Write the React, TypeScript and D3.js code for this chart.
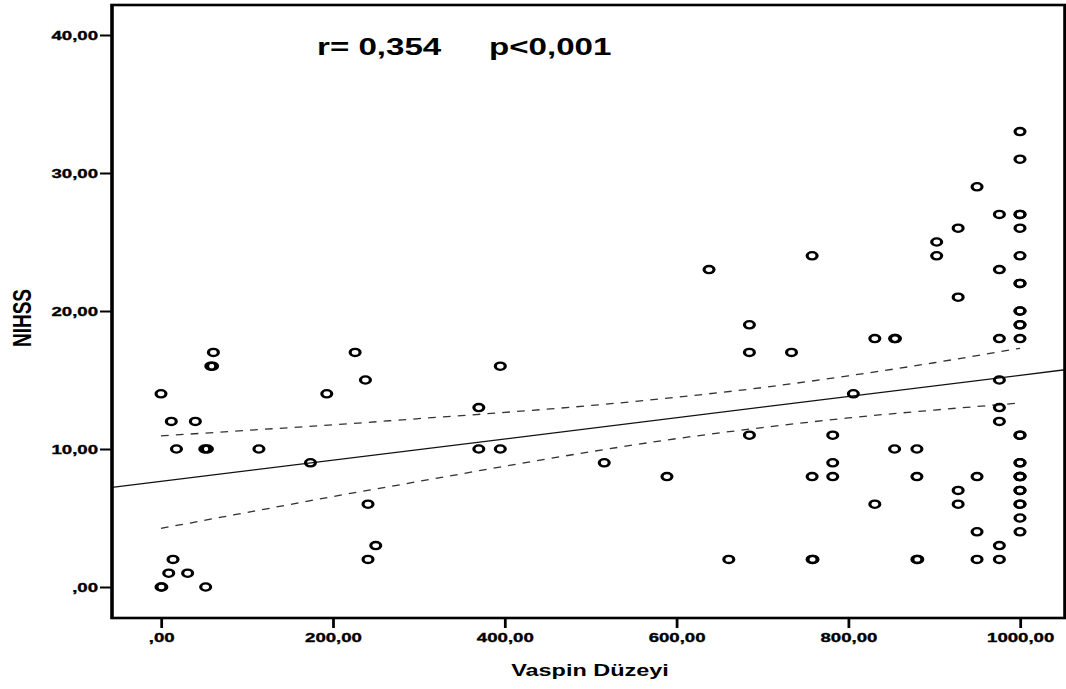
import React, { useEffect, useRef } from 'react';
import * as d3 from 'd3';

// Vaspin level (x) and NIHSS score (y)
const vaspin = [
  0, 12, 40, 18, 51, 54, 114, 61, 58, 60, 0, 1, 14, 9, 31, 52,
  226, 238, 193, 174, 241, 250, 241,
  370, 370, 395, 395, 516, 589, 638, 661,
  685, 685, 685, 734, 758, 758, 758, 759,
  782, 782, 782, 806, 831, 831, 854, 855, 854,
  880, 880, 880, 881, 903, 903, 928, 928, 928, 928,
  950, 950, 950, 950, 976, 976, 976, 976, 976, 976, 976, 976,
  1000, 1000, 1000, 1000, 1000, 1000, 1000, 1000, 1000, 1000, 1000, 1000, 1000,
  1000, 1000, 1000, 1000, 1000, 1000, 1000, 1000, 1000, 1000, 1000, 1000, 1000,
];
const nihss = [
  14, 12, 12, 10, 10, 10, 10, 17, 16, 16, 0, 0, 2, 1, 1, 0,
  17, 15, 14, 9, 6, 3, 2,
  13, 10, 16, 10, 9, 8, 23, 2,
  19, 17, 11, 17, 24, 8, 2, 2,
  11, 9, 8, 14, 18, 6, 18, 18, 10,
  10, 8, 2, 2, 25, 24, 26, 21, 7, 6,
  29, 8, 4, 2, 27, 23, 18, 15, 13, 12, 3, 2,
  33, 31, 27, 27, 26, 24, 22, 22, 20, 20, 19, 19, 18,
  11, 11, 9, 9, 8, 8, 8, 7, 7, 6, 6, 5, 4,
];

// fit line and its 95% band
const fitIntercept = 7.65;
const fitSlope = 0.00769;
const ciX = [0, 100, 200, 300, 400, 500, 600, 700, 800, 900, 1000];
const ciUpper = [10.95, 11.35, 11.75, 12.2, 12.65, 13.15, 13.75, 14.45, 15.3, 16.25, 17.3];
const ciLower = [4.25, 5.4, 6.55, 7.65, 8.75, 9.8, 10.75, 11.55, 12.25, 12.82, 13.33];

const xTicks = [0, 200, 400, 600, 800, 1000];
const yTicks = [0, 10, 20, 30, 40];
const statR = 'r= 0,354';
const statP = 'p<0,001';
const xTitle = 'Vaspin Düzeyi';
const yTitle = 'NIHSS';

const SX = 1.38; // the source image is stretched sideways, so is everything here
const FONT = '"Liberation Sans", Arial, sans-serif';

const App = () => {
  const ref = useRef<SVGSVGElement>(null);

  useEffect(() => {
    const root = d3.select(ref.current);
    root.selectAll('*').remove();

    const g = root.append('g').attr('transform', `scale(${SX},1)`);

    const left = 112 / SX;
    const right = 1065 / SX;
    const top = 5;
    const bottom = 618;

    const x = d3.scaleLinear().domain([0, 1000]).range([161 / SX, 1020 / SX]);
    const y = d3.scaleLinear().domain([0, 40]).range([587, 35]);

    const num = d3
      .formatLocale({ decimal: ',', thousands: '', grouping: [3], currency: ['', ''] })
      .format('.2f');
    const fmt = (v: number) => num(v).replace(/^0,/, ',');

    root
      .append('defs')
      .append('clipPath')
      .attr('id', 'plotclip')
      .append('rect')
      .attr('x', left)
      .attr('y', top)
      .attr('width', right - left)
      .attr('height', bottom - top);

    const styleTicks = (sel: any) => {
      sel.select('.domain').remove();
      sel.selectAll('line').attr('stroke', '#000').attr('stroke-width', 2);
      sel
        .selectAll('text')
        .attr('fill', '#000')
        .attr('stroke', '#000')
        .attr('stroke-width', 0.35)
        .attr('font-family', FONT)
        .attr('font-size', 13.5)
        .attr('font-weight', 'bold');
    };

    // y axis
    const yAxis = g
      .append('g')
      .attr('transform', `translate(${left},0)`)
      .call(
        d3.axisLeft(y)
          .tickValues(yTicks)
          .tickFormat(fmt as any)
          .tickSize(12 / SX)
          .tickSizeOuter(0)
          .tickPadding(2 / SX)
      );
    styleTicks(yAxis);

    // x axis
    const xAxis = g
      .append('g')
      .attr('transform', `translate(0,${bottom})`)
      .call(
        d3.axisBottom(x)
          .tickValues(xTicks)
          .tickFormat(fmt as any)
          .tickSize(10)
          .tickSizeOuter(0)
          .tickPadding(4)
      );
    styleTicks(xAxis);

    // confidence band (dashed)
    const band = d3
      .line<number>()
      .x((d, i) => x(ciX[i]))
      .y((d) => y(d))
      .curve(d3.curveMonotoneX);

    [ciUpper, ciLower].forEach((vals) => {
      g.append('path')
        .datum(vals)
        .attr('d', band)
        .attr('fill', 'none')
        .attr('stroke', '#333')
        .attr('stroke-width', 1.3)
        .attr('stroke-dasharray', '5.6,5.2');
    });

    // fit line across the whole frame
    const x0 = x.invert(left);
    const x1 = x.invert(right);
    g.append('line')
      .attr('clip-path', 'url(#plotclip)')
      .attr('x1', x(x0))
      .attr('y1', y(fitIntercept + fitSlope * x0))
      .attr('x2', x(x1))
      .attr('y2', y(fitIntercept + fitSlope * x1))
      .attr('stroke', '#111')
      .attr('stroke-width', 1.3);

    // points
    g.append('g')
      .selectAll('circle')
      .data(vaspin)
      .enter()
      .append('circle')
      .attr('cx', (d) => x(d))
      .attr('cy', (d, i) => y(nihss[i]))
      .attr('r', 3.6)
      .attr('fill', 'none')
      .attr('stroke', '#000')
      .attr('stroke-width', 2.3);

    // frame
    g.append('rect')
      .attr('x', left)
      .attr('y', top)
      .attr('width', right - left)
      .attr('height', bottom - top)
      .attr('fill', 'none')
      .attr('stroke', '#000')
      .attr('stroke-width', 2.6);

    // r and p
    g.append('text')
      .attr('x', 317 / SX)
      .attr('y', 55)
      .attr('font-family', FONT)
      .attr('font-size', 24)
      .attr('font-weight', 'bold')
      .attr('fill', '#000')
      .text(statR);
    g.append('text')
      .attr('x', 489 / SX)
      .attr('y', 55)
      .attr('font-family', FONT)
      .attr('font-size', 24)
      .attr('font-weight', 'bold')
      .attr('fill', '#000')
      .text(statP);

    // axis titles
    g.append('text')
      .attr('x', 590 / SX)
      .attr('y', 676)
      .attr('text-anchor', 'middle')
      .attr('font-family', FONT)
      .attr('font-size', 17)
      .attr('font-weight', 'bold')
      .attr('fill', '#000')
      .text(xTitle);
    g.append('text')
      .attr('transform', `translate(${22 / SX},318) rotate(-90)`)
      .attr('text-anchor', 'middle')
      .attr('dy', '0.35em')
      .attr('font-family', FONT)
      .attr('font-size', 19)
      .attr('font-weight', 'bold')
      .attr('fill', '#000')
      .text(yTitle);
  }, []);

  return (
    <svg
      ref={ref}
      width={1066}
      height={689}
      style={{ position: 'absolute', left: 0, top: 0, background: '#fff' }}
    />
  );
};

export default App;
